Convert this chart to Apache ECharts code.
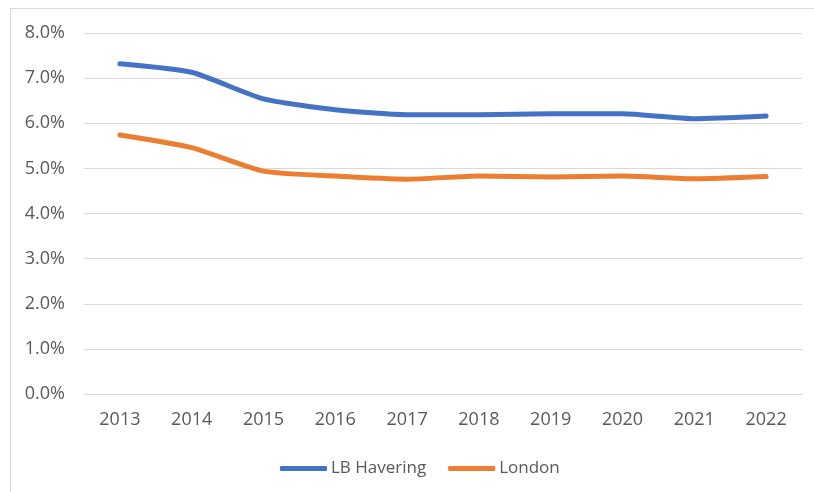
<!DOCTYPE html>
<html>
<head>
<meta charset="utf-8">
<script src="https://cdn.jsdelivr.net/npm/echarts@6/dist/echarts.min.js"></script>
<style>
  html, body { margin: 0; padding: 0; background: #ffffff; }
  #chart { width: 814px; height: 492px; }
</style>
</head>
<body>
<div id="chart"></div>
<script>
// Years on the category axis
const years = ['2013', '2014', '2015', '2016', '2017', '2018', '2019', '2020', '2021', '2022'];
// Rates in percent
const havering = [7.32, 7.13, 6.54, 6.30, 6.19, 6.19, 6.21, 6.21, 6.10, 6.16];
const london = [5.74, 5.46, 4.94, 4.83, 4.76, 4.83, 4.81, 4.83, 4.77, 4.82];
const seriesNames = ['LB Havering', 'London'];

const fontFamily = '"Open Sans", "Noto Sans", sans-serif';
const textColor = '#595959';

const chart = echarts.init(document.getElementById('chart'), null, { renderer: 'canvas' });

chart.setOption({
  animation: false,
  backgroundColor: '#ffffff',
  graphic: [{
    type: 'rect',
    shape: { x: 10.5, y: 8.5, width: 900, height: 600 },
    style: { fill: 'none', stroke: '#d9d9d9', lineWidth: 1 },
    silent: true
  }],
  grid: { left: 84, right: 12, top: 33, bottom: 98 },
  legend: {
    left: 275,
    top: 455,
    itemWidth: 47,
    itemHeight: 5,
    itemGap: 22,
    icon: 'roundRect',
    textStyle: { color: textColor, fontSize: 17, fontFamily: fontFamily, padding: [0, 0, 0, -1] },
    data: seriesNames
  },
  xAxis: {
    type: 'category',
    data: years,
    boundaryGap: true,
    axisLine: { show: false },
    axisTick: { show: false },
    axisLabel: { color: textColor, fontSize: 18, fontFamily: fontFamily, margin: 17 }
  },
  yAxis: {
    type: 'value',
    min: 0,
    max: 8,
    interval: 1,
    axisLine: { show: false },
    axisTick: { show: false },
    splitLine: { lineStyle: { color: '#d9d9d9', width: 1 } },
    axisLabel: {
      color: textColor, fontSize: 18, fontFamily: fontFamily, margin: 19,
      formatter: v => v.toFixed(1) + '%'
    }
  },
  series: [
    {
      name: seriesNames[0],
      type: 'line',
      data: havering,
      smooth: 0.2,
      showSymbol: false,
      symbol: 'none',
      color: '#4472C4',
      lineStyle: { width: 5, color: '#4472C4', cap: 'round', join: 'round' }
    },
    {
      name: seriesNames[1],
      type: 'line',
      data: london,
      smooth: 0.2,
      showSymbol: false,
      symbol: 'none',
      color: '#ED7D31',
      lineStyle: { width: 5, color: '#ED7D31', cap: 'round', join: 'round' }
    }
  ]
});
</script>
</body>
</html>
